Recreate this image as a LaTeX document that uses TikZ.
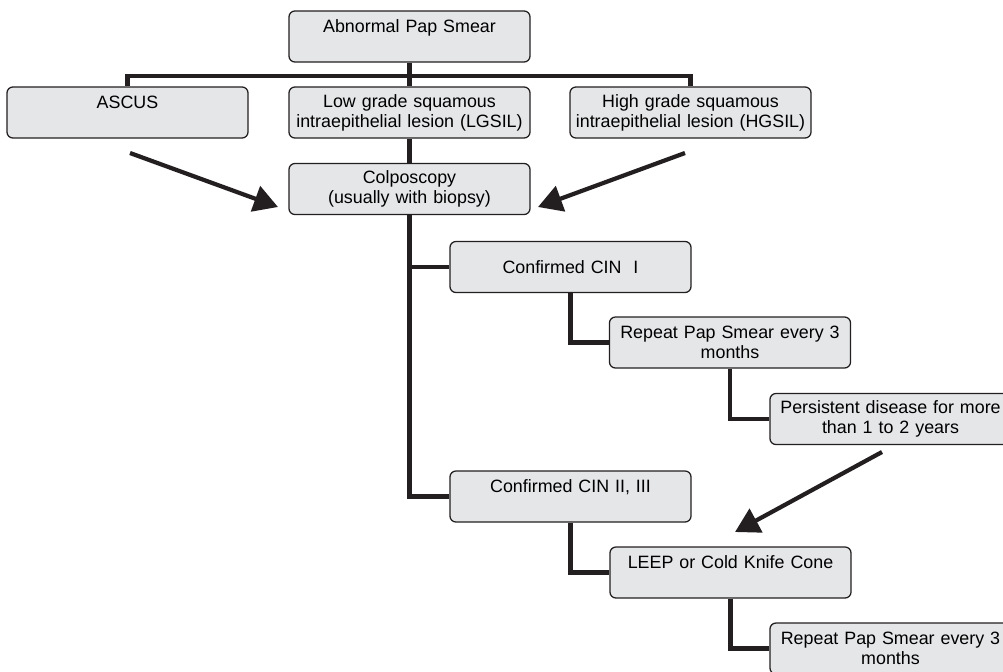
\documentclass[tikz,border=0pt]{standalone}
\usepackage{fontspec}
\setmainfont{Liberation Sans}
\usepackage{xcolor}
\definecolor{boxgray}{RGB}{229,230,232}
\definecolor{inkblack}{RGB}{35,31,32}
\usepackage{tikz}
\usetikzlibrary{arrows.meta}
\tikzset{
    common/.style={draw=inkblack, line width=0.9pt, fill=boxgray, rounded corners=0.15cm,
        minimum width=6.025cm, minimum height=1.275cm, inner sep=0pt,
        text width=5.9cm, align=center, font=\fontsize{12.7}{14.2}\selectfont},
    link/.style={inkblack, line width=3pt},
    flow/.style={inkblack, line width=3pt, -{Triangle[length=0.6cm, width=0.66cm]}}
}

\begin{document}
\begin{tikzpicture}[x=0.025cm, y=-0.025cm]
      \useasboundingbox (0,0) rectangle (1003,671);
      \clip (0,0) rectangle (1003,671);
      \path
          node[common] (abn) at (409.5,36.5) {Abnormal Pap Smear\\~}
          node[common] (ascus) at (127.5,112.5) {ASCUS\\~}
          node[common] (lgsil) at (409.5,112.5) {Low grade squamous\\intraepithelial lesion (LGSIL)}
          node[common] (hgsil) at (690.5,112.5) {High grade squamous\\intraepithelial lesion (HGSIL)}
          node[common] (colpo) at (409.5,189) {Colposcopy\\(usually with biopsy)};
      \path
          node[common] (cin1) at (570.5,267) {Confirmed CIN~~I}
          node[common] (rep1) at (730,342.5) {Repeat Pap Smear every 3\\months}
          node[common] (pers) at (890.5,419) {Persistent disease for more\\than 1 to 2 years}
          node[common] (cin2) at (570.5,496.5) {Confirmed CIN II, III\\~}
          node[common] (leep) at (730.5,572.5) {LEEP or Cold Knife Cone\\~}
          node[common] (rep2) at (890.5,648.5) {Repeat Pap Smear every 3\\months};

      \coordinate (split) at (409.5,76);
      \coordinate (ascus-out) at (130,153);
      \coordinate (hgsil-out) at (685,153);
      \coordinate (pers-out) at (882,452);
      \coordinate (colpo-l) at (278,207);
      \coordinate (colpo-r) at (538,207);
      \coordinate (leep-in) at (735,532);

      \draw[link] (abn) -- (lgsil);
      \draw[link] (ascus.north) |- (split) -| (hgsil.north);
      \draw[link] (lgsil) -- (colpo);
      \draw[link] (colpo.south) |- (cin1.west);
      \draw[link] (colpo.south) |- (cin2.west);
      \draw[link] (cin1.south) |- (rep1.west);
      \draw[link] (rep1.south) |- (pers.west);
      \draw[link] (cin2.south) |- (leep.west);
      \draw[link] (leep.south) |- (rep2.west);

      \draw[flow] (ascus-out) -- (colpo-l);
      \draw[flow] (hgsil-out) -- (colpo-r);
      \draw[flow] (pers-out) -- (leep-in);
  \end{tikzpicture}
\end{document}
